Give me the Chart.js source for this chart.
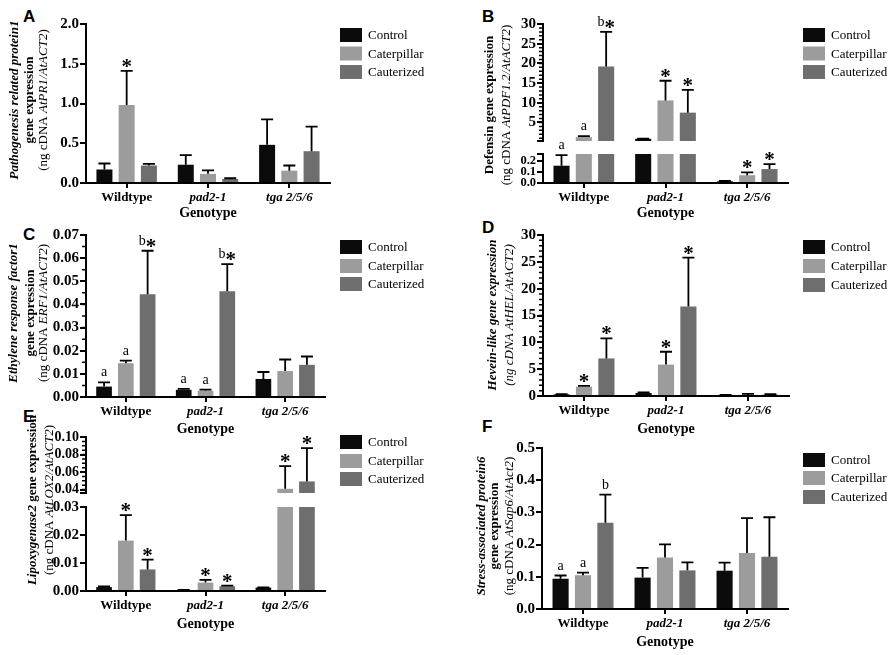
<!DOCTYPE html>
<html>
<head>
<meta charset="utf-8">
<script src="https://cdn.jsdelivr.net/npm/chart.js@4.4.1/dist/chart.umd.min.js"></script>
<style>
  body { margin: 0; background: #fff; }
  #page { position: relative; width: 892px; height: 655px; overflow: hidden; background: #fff; }
  #page canvas { position: absolute; }
  .letter { position: absolute; font: bold 17px "Liberation Sans", Arial, sans-serif; line-height: 17px; color: #000; }
</style>
</head>
<body>
<div id="page">
  <div class="letter" style="left:23px;top:8px">A</div>
  <div class="letter" style="left:482px;top:8px">B</div>
  <div class="letter" style="left:23px;top:226px">C</div>
  <div class="letter" style="left:482px;top:219px">D</div>
  <div class="letter" style="left:23px;top:408px">E</div>
  <div class="letter" style="left:482px;top:418px">F</div>
</div>
<script>
const genotypes = ["Wildtype", "pad2-1", "tga 2/5/6"];
const treatments = ["Control", "Caterpillar", "Cauterized"];
const treatmentColors = ["#0b0b0b", "#9c9c9c", "#6e6e6e"];

// rows = treatment (Control, Caterpillar, Cauterized), columns = genotype
// A - PR1
const pr1Mean = [[0.17, 0.23, 0.48], [0.98, 0.115, 0.155], [0.22, 0.05, 0.40]];
const pr1Err = [[0.075, 0.12, 0.32], [0.43, 0.045, 0.065], [0.02, 0.01, 0.31]];
const pr1Marks = [["", "", ""], ["*", "", ""], ["", "", ""]];
const pr1Ticks = [0, 0.5, 1.0, 1.5, 2.0];

// B - PDF1.2 (broken axis)
const pdfMean = [[0.155, 0.85, 0.015], [1.3, 10.6, 0.07], [19.2, 7.5, 0.125]];
const pdfErr = [[0.095, 0.05, 0.003], [0.25, 5.0, 0.025], [8.8, 5.8, 0.045]];
const pdfMarks = [["a", "", ""], ["a", "*", "*"], ["b*", "*", "*"]];
const pdfUpperTicks = [5, 10, 15, 20, 25, 30];
const pdfLowerTicks = [0, 0.1, 0.2];

// C - ERF1
const erfMean = [[0.0045, 0.0031, 0.0078], [0.0146, 0.0027, 0.0112], [0.0444, 0.0457, 0.0139]];
const erfErr = [[0.0018, 0.0004, 0.003], [0.0011, 0.0005, 0.005], [0.0188, 0.0117, 0.0036]];
const erfMarks = [["a", "a", ""], ["a", "a", ""], ["b*", "b*", ""]];
const erfTicks = [0, 0.01, 0.02, 0.03, 0.04, 0.05, 0.06, 0.07];

// D - HEL
const helMean = [[0.3, 0.55, 0.15], [1.75, 5.85, 0.2], [7.0, 16.7, 0.25]];
const helErr = [[0.05, 0.1, 0.05], [0.15, 2.4, 0.2], [3.75, 9.1, 0.1]];
const helMarks = [["", "", ""], ["*", "*", ""], ["*", "*", ""]];
const helTicks = [0, 5, 10, 15, 20, 25, 30];

// E - LOX2 (broken axis)
const loxMean = [[0.0014, 0.0003, 0.0012], [0.018, 0.003, 0.0408], [0.0077, 0.0017, 0.0492]];
const loxErr = [[0.0002, 0.0001, 0.0001], [0.0091, 0.001, 0.026], [0.0035, 0.0002, 0.038]];
const loxMarks = [["", "", ""], ["*", "*", "*"], ["*", "*", "*"]];
const loxUpperTicks = [0.04, 0.06, 0.08, 0.10];
const loxLowerTicks = [0, 0.01, 0.02, 0.03];

// F - Sap6
const sapMean = [[0.094, 0.0975, 0.119], [0.105, 0.16, 0.174], [0.268, 0.12, 0.162]];
const sapErr = [[0.01, 0.03, 0.025], [0.008, 0.041, 0.108], [0.087, 0.025, 0.123]];
const sapMarks = [["a", "", ""], ["a", "", ""], ["b", "", ""]];
const sapTicks = [0, 0.1, 0.2, 0.3, 0.4, 0.5];

// y axis titles: lines of [text, style] runs
const pr1Title = [[["Pathogenesis related protein1", "bold italic"]], [["gene expression", "bold"]],
  [["(ng cDNA ", ""], ["AtPR1/AtACT2", "italic"], [")", ""]]];
const pdfTitle = [[["Defensin gene expression", "bold"]],
  [["(ng cDNA ", ""], ["AtPDF1.2/AtACT2", "italic"], [")", ""]]];
const erfTitle = [[["Ethylene response factor1", "bold italic"]], [["gene expression", "bold"]],
  [["(ng cDNA ", ""], ["ERF1/AtACT2", "italic"], [")", ""]]];
const helTitle = [[["Hevein-like gene expression", "bold italic"]], [["(ng cDNA AtHEL/AtACT2)", "italic"]]];
const loxTitle = [[["Lipoxygenase2", "bold italic"], [" gene expression", "bold"]],
  [["(ng cDNA ", ""], ["AtLOX2/AtACT2", "italic"], [")", ""]]];
const sapTitle = [[["Stress-associated protein6", "bold italic"]], [["gene expression", "bold"]],
  [["(ng cDNA ", ""], ["AtSap6/AtAct2", "italic"], [")", ""]]];

const SERIF = '"Liberation Serif", "Times New Roman", serif';
Chart.defaults.font.family = SERIF;
Chart.defaults.color = "#000";

function drawMark(ctx, text, x, yTop) {
  const parts = [...text].map(ch => ch === "*"
    ? { t: ch, font: "bold 21px " + SERIF, dy: 5 }
    : { t: ch, font: "14px " + SERIF, dy: -3 });
  let total = 0;
  parts.forEach(p => { ctx.font = p.font; p.w = ctx.measureText(p.t).width; total += p.w; });
  let px = x - total / 2;
  ctx.textAlign = "left";
  ctx.textBaseline = "alphabetic";
  parts.forEach(p => {
    ctx.font = p.font;
    ctx.fillText(p.t, px, yTop + p.dy);
    px += p.w;
  });
}

function drawTitleLine(ctx, runs, cx, cy) {
  ctx.save();
  ctx.translate(cx, cy);
  ctx.rotate(-Math.PI / 2);
  ctx.textBaseline = "middle";
  ctx.textAlign = "left";
  const fontOf = r => (r[1] ? r[1] + " " : "") + "13px " + SERIF;
  let total = 0;
  runs.forEach(r => { ctx.font = fontOf(r); r.w = ctx.measureText(r[0]).width; total += r.w; });
  let x = -total / 2;
  runs.forEach(r => {
    ctx.font = fontOf(r);
    ctx.fillText(r[0], x, 0);
    x += r.w;
  });
  ctx.restore();
}

const panelPlugin = {
  id: "panelPlugin",
  afterDatasetsDraw(chart, args, opts) {
    const { ctx } = chart;
    const y = chart.scales.y;
    ctx.save();
    ctx.strokeStyle = "#000";
    ctx.fillStyle = "#000";
    ctx.lineWidth = 1.8;
    chart.data.datasets.forEach((ds, di) => {
      chart.getDatasetMeta(di).data.forEach((bar, i) => {
        const mean = ds.data[i];
        const top = mean + opts.err[di][i];
        if (mean >= y.min && mean <= y.max) {
          const y0 = y.getPixelForValue(mean);
          const y1 = y.getPixelForValue(Math.min(top, y.max));
          ctx.beginPath();
          ctx.moveTo(bar.x, y0);
          ctx.lineTo(bar.x, y1);
          if (top <= y.max) {
            ctx.moveTo(bar.x - 6, y1);
            ctx.lineTo(bar.x + 6, y1);
          }
          ctx.stroke();
        }
        const mark = opts.marks[di][i];
        if (mark && top >= y.min && top <= y.max) {
          drawMark(ctx, mark, bar.x, y.getPixelForValue(top) - 3);
        }
      });
    });
    ctx.restore();
  },
  afterDraw(chart, args, opts) {
    const { ctx, chartArea } = chart;
    const y = chart.scales.y;
    const [cl, ct] = opts.offset;
    ctx.save();
    ctx.strokeStyle = "#000";
    ctx.fillStyle = "#000";
    // minor ticks
    if (opts.minor) {
      ctx.lineWidth = 1.5;
      ctx.beginPath();
      const start = Math.ceil(y.min / opts.minor - 1e-9);
      for (let k = start; k * opts.minor <= y.max + 1e-9; k++) {
        const py = y.getPixelForValue(k * opts.minor);
        ctx.moveTo(chartArea.left - 4, py);
        ctx.lineTo(chartArea.left, py);
      }
      ctx.stroke();
    }
    // break stubs
    ctx.lineWidth = 2;
    ctx.beginPath();
    if (opts.stubBottom) { ctx.moveTo(chartArea.left - 6, chartArea.bottom); ctx.lineTo(chartArea.left + 1, chartArea.bottom); }
    if (opts.stubTop) { ctx.moveTo(chartArea.left - 6, chartArea.top); ctx.lineTo(chartArea.left + 1, chartArea.top); }
    ctx.stroke();
    // y axis title
    if (opts.title) {
      opts.title.lines.forEach((line, i) => drawTitleLine(ctx, line, opts.title.x[i] - cl, opts.title.y - ct));
    }
    // legend
    if (opts.legend) {
      treatments.forEach((t, k) => {
        const ly = opts.legend.y[k] - ct;
        const lx = opts.legend.x - cl;
        ctx.fillStyle = treatmentColors[k];
        ctx.fillRect(lx, ly - 7, 22, 14);
        ctx.fillStyle = "#000";
        ctx.font = "13px " + SERIF;
        ctx.textAlign = "left";
        ctx.textBaseline = "middle";
        ctx.fillText(t, lx + 28, ly + 1);
      });
    }
    ctx.restore();
  }
};

const specs = [
  { canvas: [0, 0, 446, 222], area: [86, 24, 330, 183], padBottom: 0, showX: true, tickSize: 15,
    mean: pr1Mean, err: pr1Err, marks: pr1Marks, min: 0, max: 2, ticks: pr1Ticks, digits: 1, minor: 0,
    title: { x: [15, 30, 44], y: 100, lines: pr1Title }, legend: { x: 340, y: [35, 53.5, 72] } },
  { canvas: [446, 0, 446, 222], area: [543, 24, 788, 141], padBottom: 0, showX: false, tickSize: 15,
    mean: pdfMean, err: pdfErr, marks: pdfMarks, min: 0.3, max: 30, ticks: pdfUpperTicks, digits: 0, minor: 1,
    stubBottom: true, legend: { x: 803, y: [35, 53.5, 72] } },
  { canvas: [446, 0, 446, 222], area: [543, 154, 788, 183], padBottom: 0, showX: true, tickSize: 12.5,
    mean: pdfMean, err: pdfErr, marks: pdfMarks, min: 0, max: 0.26, ticks: pdfLowerTicks, digits: 1, minor: 0,
    stubTop: true, title: { x: [490, 507], y: 105, lines: pdfTitle } },
  { canvas: [0, 218, 446, 220], area: [86, 235, 325, 397], padBottom: 0, showX: true, tickSize: 15,
    mean: erfMean, err: erfErr, marks: erfMarks, min: 0, max: 0.07, ticks: erfTicks, digits: 2, minor: 0.005,
    title: { x: [14, 31, 44], y: 313, lines: erfTitle }, legend: { x: 340, y: [247, 266, 284] } },
  { canvas: [446, 218, 446, 220], area: [543, 235, 789, 396], padBottom: 0, showX: true, tickSize: 15,
    mean: helMean, err: helErr, marks: helMarks, min: 0, max: 30, ticks: helTicks, digits: 0, minor: 1,
    title: { x: [493, 510], y: 315, lines: helTitle }, legend: { x: 803, y: [247, 266, 285] } },
  { canvas: [0, 400, 446, 255], area: [86, 437, 325, 493], padBottom: 0, showX: false, tickSize: 14,
    mean: loxMean, err: loxErr, marks: loxMarks, min: 0.036, max: 0.1, ticks: loxUpperTicks, digits: 2, minor: 0.005,
    stubBottom: true, legend: { x: 340, y: [442, 461, 479] } },
  { canvas: [0, 400, 446, 255], area: [86, 507, 325, 591], padBottom: 22, showX: true, tickSize: 15,
    mean: loxMean, err: loxErr, marks: loxMarks, min: 0, max: 0.03, ticks: loxLowerTicks, digits: 2, minor: 0,
    title: { x: [33, 50], y: 500, lines: loxTitle } },
  { canvas: [446, 400, 446, 255], area: [542, 448, 788, 609], padBottom: 4.6, showX: true, tickSize: 15,
    mean: sapMean, err: sapErr, marks: sapMarks, min: 0, max: 0.5, ticks: sapTicks, digits: 1, minor: 0,
    title: { x: [482, 495, 510], y: 526, lines: sapTitle }, legend: { x: 803, y: [460, 478, 497] } }
];

const page = document.getElementById("page");

specs.forEach(spec => {
  const [cl, ct, cw, ch] = spec.canvas;
  const [L, T, R, B] = spec.area;
  const canvas = document.createElement("canvas");
  canvas.width = cw;
  canvas.height = ch;
  canvas.style.left = cl + "px";
  canvas.style.top = ct + "px";
  canvas.style.width = cw + "px";
  canvas.style.height = ch + "px";
  page.appendChild(canvas);

  const padBottom = spec.showX ? spec.padBottom : ct + ch - B;
  const xHeight = ch - padBottom - (B - ct);

  new Chart(canvas, {
    type: "bar",
    data: {
      labels: genotypes,
      datasets: treatments.map((t, k) => ({
        label: t,
        data: spec.mean[k],
        backgroundColor: treatmentColors[k],
        borderWidth: 0,
        categoryPercentage: 0.82,
        barPercentage: 0.72,
        clip: 0
      }))
    },
    options: {
      responsive: false,
      animation: false,
      events: [],
      layout: { padding: { left: 0, top: T - ct, right: cl + cw - R, bottom: padBottom } },
      plugins: {
        legend: { display: false },
        tooltip: { enabled: false },
        panelPlugin: {
          offset: [cl, ct], err: spec.err, marks: spec.marks, minor: spec.minor,
          stubTop: spec.stubTop, stubBottom: spec.stubBottom, title: spec.title, legend: spec.legend
        }
      },
      scales: {
        x: {
          display: spec.showX,
          grid: { display: true, offset: false, drawOnChartArea: false, drawTicks: true, tickLength: 5, color: "#000", lineWidth: 2 },
          border: { display: true, color: "#000", width: 2 },
          ticks: {
            color: "#000", padding: 2, maxRotation: 0, autoSkip: false,
            font: c => ({ family: SERIF, size: 13, weight: "bold", style: c.index === 0 ? "normal" : "italic" })
          },
          title: { display: true, text: "Genotype", color: "#000", padding: 0, font: { family: SERIF, size: 14, weight: "bold" } },
          afterFit: s => { s.height = xHeight; }
        },
        y: {
          min: spec.min,
          max: spec.max,
          afterBuildTicks: s => { s.ticks = spec.ticks.map(v => ({ value: v })); },
          ticks: {
            color: "#000", padding: 1, autoSkip: false,
            font: { family: SERIF, size: spec.tickSize, weight: "bold" },
            callback: v => Number(v).toFixed(spec.digits)
          },
          grid: { display: true, drawOnChartArea: false, drawTicks: true, tickLength: 6, color: "#000", lineWidth: 2 },
          border: { display: true, color: "#000", width: 2 },
          afterFit: s => { s.width = L - cl; }
        }
      }
    },
    plugins: [panelPlugin]
  });
});
</script>
</body>
</html>
